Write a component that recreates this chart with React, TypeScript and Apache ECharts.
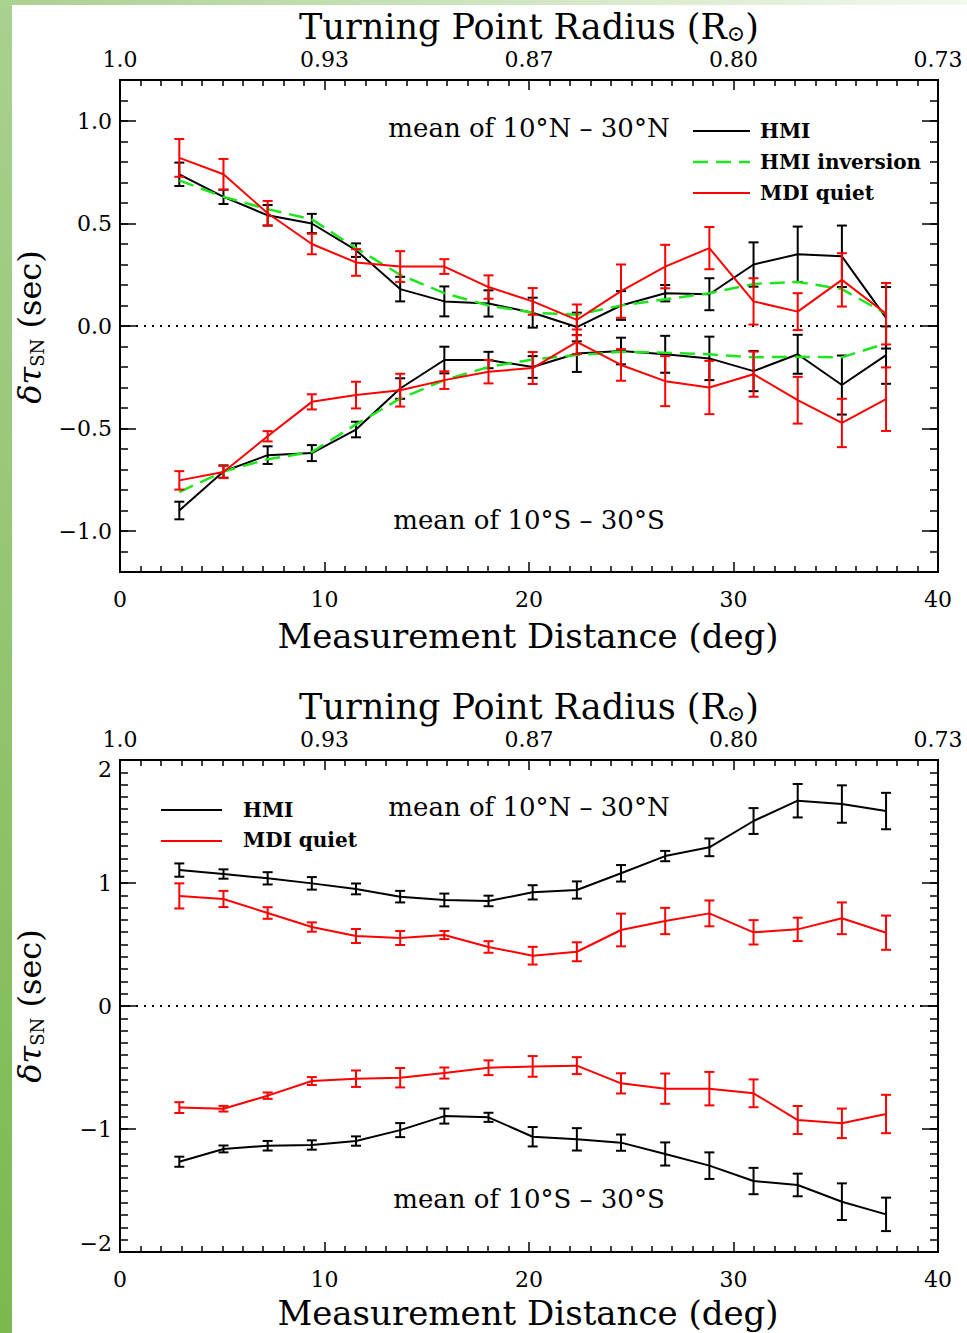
import React, { useEffect, useRef } from 'react';
import * as echarts from 'echarts';

// ---- data ----
const distance = [2.9, 5.06, 7.22, 9.38, 11.54, 13.7, 15.86, 18.02, 20.18, 22.34, 24.5, 26.66, 28.82, 30.98, 33.14, 35.3, 37.46];
const xTicks = [0, 10, 20, 30, 40];
const radiusLabels = ['1.0', '0.93', '0.87', '0.80', '0.73'];
const topYTicks = [-1.0, -0.5, 0.0, 0.5, 1.0];
const botYTicks = [-2, -1, 0, 1, 2];

// top panel (HMI, HMI inversion, MDI quiet)
const topHmiN = [0.74, 0.63, 0.54, 0.5, 0.37, 0.18, 0.12, 0.11, 0.065, -0.005, 0.1, 0.16, 0.155, 0.3, 0.35, 0.34, 0.04];
const topHmiNErr = [0.057, 0.035, 0.05, 0.047, 0.033, 0.06, 0.073, 0.064, 0.073, 0.07, 0.07, 0.04, 0.078, 0.108, 0.135, 0.15, 0.15];
const topInvN = [0.71, 0.63, 0.57, 0.52, 0.38, 0.25, 0.16, 0.1, 0.065, 0.055, 0.1, 0.13, 0.16, 0.205, 0.215, 0.18, 0.06];
const topMdiN = [0.82, 0.74, 0.55, 0.4, 0.31, 0.29, 0.29, 0.19, 0.12, 0.03, 0.17, 0.29, 0.38, 0.12, 0.07, 0.225, 0.06];
const topMdiNErr = [0.092, 0.075, 0.06, 0.05, 0.065, 0.075, 0.036, 0.057, 0.065, 0.075, 0.13, 0.106, 0.103, 0.113, 0.09, 0.13, 0.15];
const topHmiS = [-0.9, -0.71, -0.63, -0.62, -0.505, -0.305, -0.166, -0.166, -0.2, -0.134, -0.122, -0.138, -0.158, -0.22, -0.138, -0.288, -0.142];
const topHmiSErr = [0.043, 0.03, 0.043, 0.039, 0.038, 0.05, 0.065, 0.04, 0.053, 0.09, 0.065, 0.09, 0.106, 0.098, 0.095, 0.144, 0.14];
const topInvS = [-0.81, -0.71, -0.65, -0.615, -0.48, -0.354, -0.264, -0.2, -0.163, -0.142, -0.126, -0.13, -0.138, -0.153, -0.15, -0.153, -0.085];
const topMdiS = [-0.753, -0.712, -0.538, -0.37, -0.337, -0.313, -0.264, -0.223, -0.205, -0.077, -0.19, -0.269, -0.3, -0.235, -0.362, -0.473, -0.357];
const topMdiSErr = [0.045, 0.03, 0.025, 0.037, 0.065, 0.08, 0.043, 0.057, 0.078, 0.06, 0.077, 0.122, 0.13, 0.11, 0.114, 0.118, 0.155];

// bottom panel (HMI, MDI quiet)
const botHmiN = [1.105, 1.073, 1.038, 0.997, 0.952, 0.889, 0.862, 0.854, 0.924, 0.943, 1.079, 1.219, 1.29, 1.504, 1.669, 1.642, 1.585];
const botHmiNErr = [0.054, 0.038, 0.05, 0.051, 0.044, 0.047, 0.052, 0.043, 0.058, 0.07, 0.067, 0.042, 0.072, 0.105, 0.136, 0.152, 0.148];
const botMdiN = [0.895, 0.87, 0.756, 0.642, 0.569, 0.553, 0.577, 0.48, 0.409, 0.441, 0.618, 0.691, 0.753, 0.599, 0.623, 0.713, 0.596];
const botMdiNErr = [0.102, 0.066, 0.047, 0.038, 0.057, 0.057, 0.033, 0.047, 0.072, 0.077, 0.133, 0.107, 0.105, 0.099, 0.095, 0.129, 0.139];
const botHmiS = [-1.266, -1.162, -1.136, -1.13, -1.098, -1.009, -0.895, -0.905, -1.063, -1.084, -1.111, -1.203, -1.298, -1.423, -1.455, -1.591, -1.694];
const botHmiSErr = [0.041, 0.028, 0.039, 0.038, 0.038, 0.057, 0.061, 0.037, 0.079, 0.091, 0.066, 0.094, 0.108, 0.107, 0.092, 0.149, 0.136];
const botMdiS = [-0.826, -0.835, -0.729, -0.61, -0.591, -0.583, -0.545, -0.502, -0.491, -0.485, -0.629, -0.672, -0.672, -0.71, -0.927, -0.954, -0.878];
const botMdiSErr = [0.044, 0.023, 0.026, 0.032, 0.067, 0.079, 0.045, 0.06, 0.084, 0.069, 0.082, 0.123, 0.136, 0.113, 0.114, 0.12, 0.156];

const BLACK = '#000000';
const RED = '#ff0000';
const GREEN = '#1ee61e';
const FONT = 'DejaVu Serif';

const minusFmt = (s: string) => s.replace('-', '\u2212');

function xAxes(g: number) {
  const common = {
    gridIndex: g,
    type: 'value',
    min: 0,
    max: 40,
    interval: 10,
    axisLine: { show: true, onZero: false, lineStyle: { color: BLACK, width: 2 } },
    axisTick: { show: true, inside: true, length: 10, lineStyle: { color: BLACK, width: 1.5 } },
    minorTick: { show: true, splitNumber: 10, length: 6, lineStyle: { color: BLACK, width: 1.5 } },
    splitLine: { show: false },
    minorSplitLine: { show: false },
  };
  return [
    {
      ...common,
      position: 'bottom',
      axisLabel: { show: true, margin: 16, color: BLACK, fontFamily: FONT, fontSize: 22 },
    },
    {
      ...common,
      position: 'top',
      axisLabel: {
        show: true,
        margin: 10,
        color: BLACK,
        fontFamily: FONT,
        fontSize: 22,
        formatter: (v: number) => {
          const k = xTicks.indexOf(Math.round(v));
          return k >= 0 ? radiusLabels[k] : '';
        },
      },
    },
  ];
}

const edgeRich = {
  dn: { fontFamily: FONT, fontSize: 22, color: BLACK, padding: [18, 0, 0, 0] },
  up: { fontFamily: FONT, fontSize: 22, color: BLACK, padding: [0, 0, 18, 0] },
};

function yAxes(g: number, min: number, max: number, ticks: number[], fmt: (v: number) => string) {
  const line = { show: true, onZero: false, lineStyle: { color: BLACK, width: 2 } };
  const minor = (position: string) => ({
    gridIndex: g,
    type: 'value',
    position,
    min,
    max,
    interval: 0.1,
    axisLine: line,
    axisTick: { show: true, inside: true, length: 8, lineStyle: { color: BLACK, width: 1.5 } },
    axisLabel: { show: false },
    splitLine: { show: false },
  });
  const major = (position: string, labels: boolean) => ({
    gridIndex: g,
    type: 'value',
    position,
    min,
    max,
    axisLine: line,
    axisTick: { show: true, inside: true, length: 16, customValues: ticks, lineStyle: { color: BLACK, width: 1.5 } },
    axisLabel: labels
      ? { show: true, customValues: ticks, margin: 8, color: BLACK, fontFamily: FONT, fontSize: 22, formatter: fmt, rich: edgeRich }
      : { show: false },
    splitLine: { show: false },
  });
  return [minor('left'), major('left', true), minor('right'), major('right', false)];
}

function lineSeries(g: number, values: number[], color: string, dashed = false, z = 3) {
  return {
    type: 'line',
    xAxisIndex: g * 2,
    yAxisIndex: g * 4,
    data: distance.map((x, i) => [x, values[i]]),
    symbol: 'none',
    showSymbol: false,
    silent: true,
    z,
    lineStyle: { color, width: dashed ? 2.5 : 2, type: dashed ? [15, 8] : 'solid' },
  };
}

function errSeries(g: number, values: number[], errs: number[], color: string, z = 3) {
  return {
    type: 'custom',
    xAxisIndex: g * 2,
    yAxisIndex: g * 4,
    silent: true,
    z,
    data: distance.map((x, i) => [x, values[i] - errs[i], values[i] + errs[i]]),
    encode: { x: 0, y: [1, 2] },
    renderItem: (_params: any, api: any) => {
      const x = api.value(0);
      const lo = api.coord([x, api.value(1)]);
      const hi = api.coord([x, api.value(2)]);
      const style = { stroke: color, lineWidth: 2 };
      const w = 5;
      return {
        type: 'group',
        children: [
          { type: 'line', shape: { x1: lo[0], y1: lo[1], x2: hi[0], y2: hi[1] }, style },
          { type: 'line', shape: { x1: lo[0] - w, y1: lo[1], x2: lo[0] + w, y2: lo[1] }, style },
          { type: 'line', shape: { x1: hi[0] - w, y1: hi[1], x2: hi[0] + w, y2: hi[1] }, style },
        ],
      };
    },
  };
}

function zeroLine(g: number) {
  return {
    type: 'line',
    xAxisIndex: g * 2,
    yAxisIndex: g * 4,
    data: [[0, 0], [40, 0]],
    symbol: 'none',
    silent: true,
    z: 2,
    lineStyle: { color: BLACK, width: 2, type: [2, 6] },
  };
}

function txt(x: number, y: number, text: string, size: number, extra: any = {}, rotation = 0) {
  return {
    type: 'text',
    x,
    y,
    rotation,
    silent: true,
    style: {
      text,
      fill: BLACK,
      fontFamily: FONT,
      fontSize: size,
      textAlign: 'center',
      textVerticalAlign: 'middle',
      ...extra,
    },
  };
}

function legendLine(x1: number, x2: number, y: number, color: string, dashed = false) {
  return {
    type: 'line',
    silent: true,
    shape: { x1, y1: y, x2, y2: y },
    style: { stroke: color, lineWidth: dashed ? 2.5 : 2, lineDash: dashed ? [15, 8] : null },
  };
}

const titleRich = { s: { fontSize: 22, fontFamily: FONT, verticalAlign: 'bottom', lineHeight: 18 } };
const yNameRich = {
  i: { fontStyle: 'italic', fontSize: 32, fontFamily: FONT },
  s: { fontSize: 18, fontFamily: FONT, verticalAlign: 'bottom', lineHeight: 14 },
};

const option: any = {
  animation: false,
  backgroundColor: '#ffffff',
  grid: [
    { left: 120, top: 80, width: 818, height: 492, containLabel: false },
    { left: 120, top: 760, width: 818, height: 492, containLabel: false },
  ],
  xAxis: [...xAxes(0), ...xAxes(1)],
  yAxis: [
    ...yAxes(0, -1.2, 1.2, topYTicks, (v: number) => minusFmt(v.toFixed(1))),
    ...yAxes(1, -2, 2, botYTicks, (v: number) => {
      const r = Math.round(v);
      const s = minusFmt(String(r));
      if (r === 2) return '{dn|' + s + '}';
      if (r === -2) return '{up|' + s + '}';
      return s;
    }),
  ],
  series: [
    zeroLine(0),
    lineSeries(0, topHmiN, BLACK),
    errSeries(0, topHmiN, topHmiNErr, BLACK),
    lineSeries(0, topHmiS, BLACK),
    errSeries(0, topHmiS, topHmiSErr, BLACK),
    lineSeries(0, topInvN, GREEN, true, 4),
    lineSeries(0, topInvS, GREEN, true, 4),
    lineSeries(0, topMdiN, RED, false, 5),
    errSeries(0, topMdiN, topMdiNErr, RED, 5),
    lineSeries(0, topMdiS, RED, false, 5),
    errSeries(0, topMdiS, topMdiSErr, RED, 5),

    zeroLine(1),
    lineSeries(1, botHmiN, BLACK),
    errSeries(1, botHmiN, botHmiNErr, BLACK),
    lineSeries(1, botHmiS, BLACK),
    errSeries(1, botHmiS, botHmiSErr, BLACK),
    lineSeries(1, botMdiN, RED, false, 5),
    errSeries(1, botMdiN, botMdiNErr, RED, 5),
    lineSeries(1, botMdiS, RED, false, 5),
    errSeries(1, botMdiS, botMdiSErr, RED, 5),
  ],
  graphic: [
    {
      type: 'rect',
      silent: true,
      z: -10,
      shape: { x: 0, y: 0, width: 12, height: 1333 },
      style: {
        fill: new echarts.graphic.LinearGradient(0, 0, 0, 1, [
          { offset: 0, color: '#a9d18f' },
          { offset: 1, color: '#7cb84f' },
        ]),
      },
    },
    {
      type: 'rect',
      silent: true,
      z: -10,
      shape: { x: 0, y: 0, width: 967, height: 5 },
      style: {
        fill: new echarts.graphic.LinearGradient(0, 0, 1, 0, [
          { offset: 0, color: '#a9d18f' },
          { offset: 1, color: '#f3f8ef' },
        ]),
      },
    },
    // top panel texts
    txt(529, 27, 'Turning Point Radius (R{s|\u2299})', 35, { rich: titleRich }),
    txt(528, 636, 'Measurement Distance (deg)', 34),
    txt(30, 327, '{i|\u03b4\u03c4}{s|SN} (sec)', 32, { rich: yNameRich }, Math.PI / 2),
    txt(529, 128, 'mean of 10\u00b0N \u2013 30\u00b0N', 26),
    txt(529, 520, 'mean of 10\u00b0S \u2013 30\u00b0S', 26),
    legendLine(693, 750, 131, BLACK),
    legendLine(693, 750, 162, GREEN, true),
    legendLine(693, 750, 193, RED),
    txt(760, 131, 'HMI', 20, { textAlign: 'left', fontWeight: 'bold' }),
    txt(760, 162, 'HMI inversion', 20, { textAlign: 'left', fontWeight: 'bold' }),
    txt(760, 193, 'MDI quiet', 20, { textAlign: 'left', fontWeight: 'bold' }),
    // bottom panel texts
    txt(529, 707, 'Turning Point Radius (R{s|\u2299})', 35, { rich: titleRich }),
    txt(528, 1313, 'Measurement Distance (deg)', 34),
    txt(30, 1006, '{i|\u03b4\u03c4}{s|SN} (sec)', 32, { rich: yNameRich }, Math.PI / 2),
    txt(529, 807, 'mean of 10\u00b0N \u2013 30\u00b0N', 26),
    txt(529, 1199, 'mean of 10\u00b0S \u2013 30\u00b0S', 26),
    legendLine(161, 222, 810, BLACK),
    legendLine(161, 222, 841, RED),
    txt(243, 810, 'HMI', 20, { textAlign: 'left', fontWeight: 'bold' }),
    txt(243, 840, 'MDI quiet', 20, { textAlign: 'left', fontWeight: 'bold' }),
  ],
};

export default function App() {
  const ref = useRef<HTMLDivElement>(null);
  useEffect(() => {
    if (!ref.current) return;
    const chart = echarts.init(ref.current, null, { renderer: 'svg' });
    chart.setOption(option);
    return () => chart.dispose();
  }, []);
  return (
    <div
      ref={ref}
      style={{ position: 'absolute', left: 0, top: 0, width: 967, height: 1333, background: '#ffffff' }}
    />
  );
}
